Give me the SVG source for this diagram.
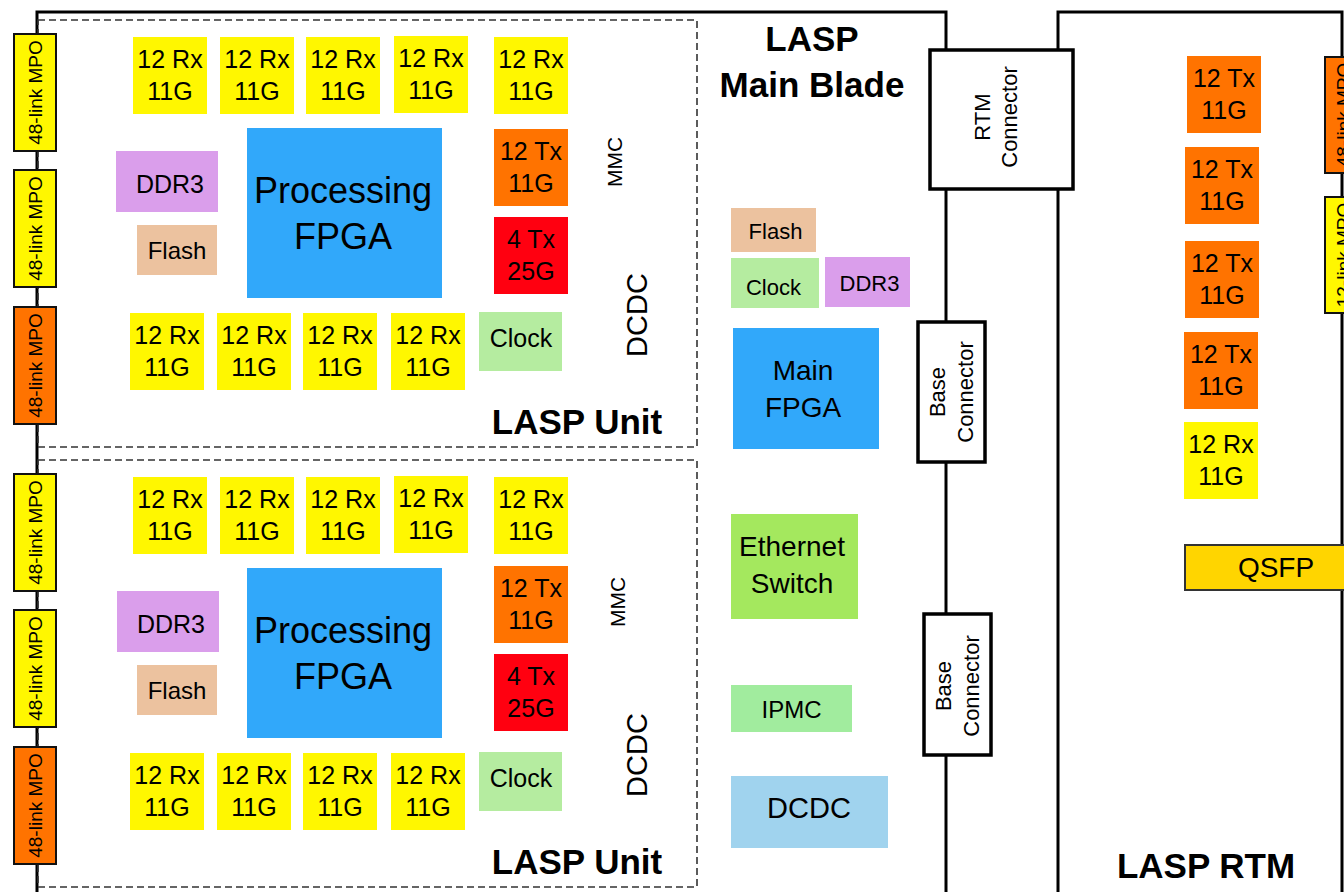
<svg xmlns="http://www.w3.org/2000/svg" width="1344" height="892" viewBox="0 0 1344 892">
<style>
text{font-family:"Liberation Sans",Arial,sans-serif;fill:#000}
.t25{font-size:25px;text-anchor:middle}
.mid{text-anchor:middle}
.b{font-weight:bold;font-size:35px;text-anchor:middle}
.rx{fill:#FFF700}
.tx{fill:#FF7300}
.red{fill:#FF0010}
.fpga{fill:#31A8FA}
.ddr{fill:#DA9EEB}
.flash{fill:#ECC29F}
.clk{fill:#B5ECA0}
.mpo{stroke:#111;stroke-width:2}
.conn{fill:#fff;stroke:#000;stroke-width:3.5}
.dash{fill:none;stroke:#333;stroke-width:1.6;stroke-dasharray:7 4}
.line{fill:none;stroke:#000;stroke-width:3}
</style>
<rect width="1344" height="892" fill="#fff"/>

<g id="connectors">
<path class="line" d="M37,892 V12 H946 V50"/>
<path class="line" d="M946,189 V322"/>
<path class="line" d="M946,462 V614"/>
<path class="line" d="M946,755 V892"/>
<path class="line" d="M1058,892 V189"/>
<path class="line" d="M1058,50 V12 H1342 V892"/>
</g>

<g id="lasp-unit-1">
<rect class="dash" x="38" y="20" width="659" height="427"/>
<text class="b" x="577" y="434">LASP Unit</text>
</g>
<g id="lasp-unit-2">
<rect class="dash" x="38" y="460" width="659" height="427"/>
<text class="b" x="577" y="874">LASP Unit</text>
</g>

<g id="mpo-left">
<rect class="mpo rx" x="14" y="34" width="42" height="117"/>
<text transform="translate(42,92.5) rotate(-90)" class="mid" font-size="19">48-link MPO</text>
<rect class="mpo rx" x="14" y="170" width="42" height="117"/>
<text transform="translate(42,228.5) rotate(-90)" class="mid" font-size="19">48-link MPO</text>
<rect class="mpo tx" x="14" y="307" width="42" height="117"/>
<text transform="translate(42,365.5) rotate(-90)" class="mid" font-size="19">48-link MPO</text>
<rect class="mpo rx" x="14" y="474" width="42" height="117"/>
<text transform="translate(42,532.5) rotate(-90)" class="mid" font-size="19">48-link MPO</text>
<rect class="mpo rx" x="14" y="610" width="42" height="117"/>
<text transform="translate(42,668.5) rotate(-90)" class="mid" font-size="19">48-link MPO</text>
<rect class="mpo tx" x="14" y="747" width="42" height="117"/>
<text transform="translate(42,805.5) rotate(-90)" class="mid" font-size="19">48-link MPO</text>
</g>

<g id="unit1-parts">
<g id="u1-rx1"><rect class="rx" x="133" y="37" width="74" height="77"/><text class="t25" x="170" y="68">12 Rx</text><text class="t25" x="170" y="100">11G</text></g>
<g id="u1-rx2"><rect class="rx" x="220" y="37" width="74" height="77"/><text class="t25" x="257" y="68">12 Rx</text><text class="t25" x="257" y="100">11G</text></g>
<g id="u1-rx3"><rect class="rx" x="306" y="37" width="74" height="77"/><text class="t25" x="343" y="68">12 Rx</text><text class="t25" x="343" y="100">11G</text></g>
<g id="u1-rx4"><rect class="rx" x="394" y="36" width="74" height="77"/><text class="t25" x="431" y="67">12 Rx</text><text class="t25" x="431" y="99">11G</text></g>
<g id="u1-rx5"><rect class="rx" x="494" y="37" width="74" height="77"/><text class="t25" x="531" y="68">12 Rx</text><text class="t25" x="531" y="100">11G</text></g>
<g id="u1-fpga"><rect class="fpga" x="247" y="128" width="195" height="170"/><text class="mid" font-size="36" x="343" y="203">Processing</text><text class="mid" font-size="36" x="343" y="249">FPGA</text></g>
<g id="u1-ddr3"><rect class="ddr" x="116" y="151" width="102" height="61"/><text class="mid" font-size="25" x="170" y="193">DDR3</text></g>
<g id="u1-flash"><rect class="flash" x="137" y="225" width="80" height="50"/><text class="mid" font-size="24" x="177" y="259">Flash</text></g>
<g id="u1-tx"><rect class="tx" x="494" y="129" width="74" height="77"/><text class="t25" x="531" y="160">12 Tx</text><text class="t25" x="531" y="192">11G</text></g>
<g id="u1-tx25"><rect class="red" x="494" y="217" width="74" height="77"/><text class="t25" x="531" y="248">4 Tx</text><text class="t25" x="531" y="280">25G</text></g>
<g id="u1-rx6"><rect class="rx" x="130" y="313" width="74" height="77"/><text class="t25" x="167" y="344">12 Rx</text><text class="t25" x="167" y="376">11G</text></g>
<g id="u1-rx7"><rect class="rx" x="217" y="313" width="74" height="77"/><text class="t25" x="254" y="344">12 Rx</text><text class="t25" x="254" y="376">11G</text></g>
<g id="u1-rx8"><rect class="rx" x="303" y="313" width="74" height="77"/><text class="t25" x="340" y="344">12 Rx</text><text class="t25" x="340" y="376">11G</text></g>
<g id="u1-rx9"><rect class="rx" x="391" y="313" width="74" height="77"/><text class="t25" x="428" y="344">12 Rx</text><text class="t25" x="428" y="376">11G</text></g>
<g id="u1-clock"><rect class="clk" x="479" y="312" width="83" height="59"/><text class="mid" font-size="25" x="521" y="347">Clock</text></g>
<g id="u1-mmc"><text transform="translate(622,162) rotate(-90)" class="mid" font-size="21">MMC</text></g>
<g id="u1-dcdc"><text transform="translate(647,315) rotate(-90)" class="mid" font-size="29">DCDC</text></g>
</g>

<g id="unit2-parts">
<g id="u2-rx1"><rect class="rx" x="133" y="477" width="74" height="77"/><text class="t25" x="170" y="508">12 Rx</text><text class="t25" x="170" y="540">11G</text></g>
<g id="u2-rx2"><rect class="rx" x="220" y="477" width="74" height="77"/><text class="t25" x="257" y="508">12 Rx</text><text class="t25" x="257" y="540">11G</text></g>
<g id="u2-rx3"><rect class="rx" x="306" y="477" width="74" height="77"/><text class="t25" x="343" y="508">12 Rx</text><text class="t25" x="343" y="540">11G</text></g>
<g id="u2-rx4"><rect class="rx" x="394" y="476" width="74" height="77"/><text class="t25" x="431" y="507">12 Rx</text><text class="t25" x="431" y="539">11G</text></g>
<g id="u2-rx5"><rect class="rx" x="494" y="477" width="74" height="77"/><text class="t25" x="531" y="508">12 Rx</text><text class="t25" x="531" y="540">11G</text></g>
<g id="u2-fpga"><rect class="fpga" x="247" y="568" width="195" height="170"/><text class="mid" font-size="36" x="343" y="643">Processing</text><text class="mid" font-size="36" x="343" y="689">FPGA</text></g>
<g id="u2-ddr3"><rect class="ddr" x="117" y="591" width="102" height="61"/><text class="mid" font-size="25" x="171" y="633">DDR3</text></g>
<g id="u2-flash"><rect class="flash" x="137" y="665" width="80" height="50"/><text class="mid" font-size="24" x="177" y="699">Flash</text></g>
<g id="u2-tx"><rect class="tx" x="494" y="566" width="74" height="77"/><text class="t25" x="531" y="597">12 Tx</text><text class="t25" x="531" y="629">11G</text></g>
<g id="u2-tx25"><rect class="red" x="494" y="654" width="74" height="77"/><text class="t25" x="531" y="685">4 Tx</text><text class="t25" x="531" y="717">25G</text></g>
<g id="u2-rx6"><rect class="rx" x="130" y="753" width="74" height="77"/><text class="t25" x="167" y="784">12 Rx</text><text class="t25" x="167" y="816">11G</text></g>
<g id="u2-rx7"><rect class="rx" x="217" y="753" width="74" height="77"/><text class="t25" x="254" y="784">12 Rx</text><text class="t25" x="254" y="816">11G</text></g>
<g id="u2-rx8"><rect class="rx" x="303" y="753" width="74" height="77"/><text class="t25" x="340" y="784">12 Rx</text><text class="t25" x="340" y="816">11G</text></g>
<g id="u2-rx9"><rect class="rx" x="391" y="753" width="74" height="77"/><text class="t25" x="428" y="784">12 Rx</text><text class="t25" x="428" y="816">11G</text></g>
<g id="u2-clock"><rect class="clk" x="479" y="752" width="83" height="59"/><text class="mid" font-size="25" x="521" y="787">Clock</text></g>
<g id="u2-mmc"><text transform="translate(625,602) rotate(-90)" class="mid" font-size="21">MMC</text></g>
<g id="u2-dcdc"><text transform="translate(647,755) rotate(-90)" class="mid" font-size="29">DCDC</text></g>
</g>

<g id="main-blade">
<text class="b" x="812" y="51">LASP</text>
<text class="b" x="812" y="97">Main Blade</text>
<g id="mb-flash"><rect class="flash" x="731" y="208" width="85" height="44"/><text class="mid" font-size="22" x="775.5" y="239">Flash</text></g>
<g id="mb-clock"><rect class="clk" x="731" y="258" width="88" height="50"/><text class="mid" font-size="22" x="773.5" y="295">Clock</text></g>
<g id="mb-ddr3"><rect class="ddr" x="825" y="257" width="85" height="50"/><text class="mid" font-size="22" x="869.5" y="291">DDR3</text></g>
<g id="mb-fpga"><rect class="fpga" x="733" y="328" width="146" height="121"/><text class="mid" font-size="28" x="803" y="380">Main</text><text class="mid" font-size="28" x="803" y="417">FPGA</text></g>
<g id="mb-eth"><rect fill="#A4E85E" x="731" y="514" width="127" height="105"/><text class="mid" font-size="28" x="792" y="556">Ethernet</text><text class="mid" font-size="28" x="792" y="593">Switch</text></g>
<g id="mb-ipmc"><rect fill="#A1EC9E" x="731" y="685" width="121" height="47"/><text class="mid" font-size="24" x="791.5" y="718">IPMC</text></g>
<g id="mb-dcdc"><rect fill="#A0D3EE" x="731" y="776" width="157" height="72"/><text class="mid" font-size="29" x="809" y="818">DCDC</text></g>
</g>

<g id="rtm-connector"><rect class="conn" x="930" y="50" width="143" height="139"/>
<text transform="translate(990,117) rotate(-90)" class="mid" font-size="22">RTM</text>
<text transform="translate(1017,117) rotate(-90)" class="mid" font-size="22">Connector</text></g>
<g id="base-connector-1"><rect class="conn" x="918" y="322" width="67" height="140"/>
<text transform="translate(945,392) rotate(-90)" class="mid" font-size="22">Base</text>
<text transform="translate(973,392) rotate(-90)" class="mid" font-size="22">Connector</text></g>
<g id="base-connector-2"><rect class="conn" x="924" y="614" width="67" height="141"/>
<text transform="translate(951,686) rotate(-90)" class="mid" font-size="22">Base</text>
<text transform="translate(979,686) rotate(-90)" class="mid" font-size="22">Connector</text></g>

<g id="rtm">
<g id="rtm-tx1"><rect class="tx" x="1187" y="56" width="74" height="77"/><text class="t25" x="1224" y="87">12 Tx</text><text class="t25" x="1224" y="119">11G</text></g>
<g id="rtm-tx2"><rect class="tx" x="1185" y="147" width="74" height="77"/><text class="t25" x="1222" y="178">12 Tx</text><text class="t25" x="1222" y="210">11G</text></g>
<g id="rtm-tx3"><rect class="tx" x="1185" y="241" width="74" height="77"/><text class="t25" x="1222" y="272">12 Tx</text><text class="t25" x="1222" y="304">11G</text></g>
<g id="rtm-tx4"><rect class="tx" x="1184" y="332" width="74" height="77"/><text class="t25" x="1221" y="363">12 Tx</text><text class="t25" x="1221" y="395">11G</text></g>
<g id="rtm-rx"><rect class="rx" x="1184" y="422" width="74" height="77"/><text class="t25" x="1221" y="453">12 Rx</text><text class="t25" x="1221" y="485">11G</text></g>
<g id="rtm-qsfp"><rect fill="#FFD500" stroke="#333" stroke-width="2" x="1185" y="545" width="170" height="45"/><text class="mid" font-size="28" x="1276" y="577">QSFP</text></g>
<g id="rtm-mpo1"><rect class="mpo tx" x="1325" y="57" width="42" height="116"/><text transform="translate(1350,115) rotate(-90)" class="mid" font-size="19">48-link MPO</text></g>
<g id="rtm-mpo2"><rect class="mpo rx" x="1325" y="197" width="42" height="116"/><text transform="translate(1350,255) rotate(-90)" class="mid" font-size="19">12-link MPO</text></g>
<text class="b" x="1206" y="878">LASP RTM</text>
</g>
</svg>
